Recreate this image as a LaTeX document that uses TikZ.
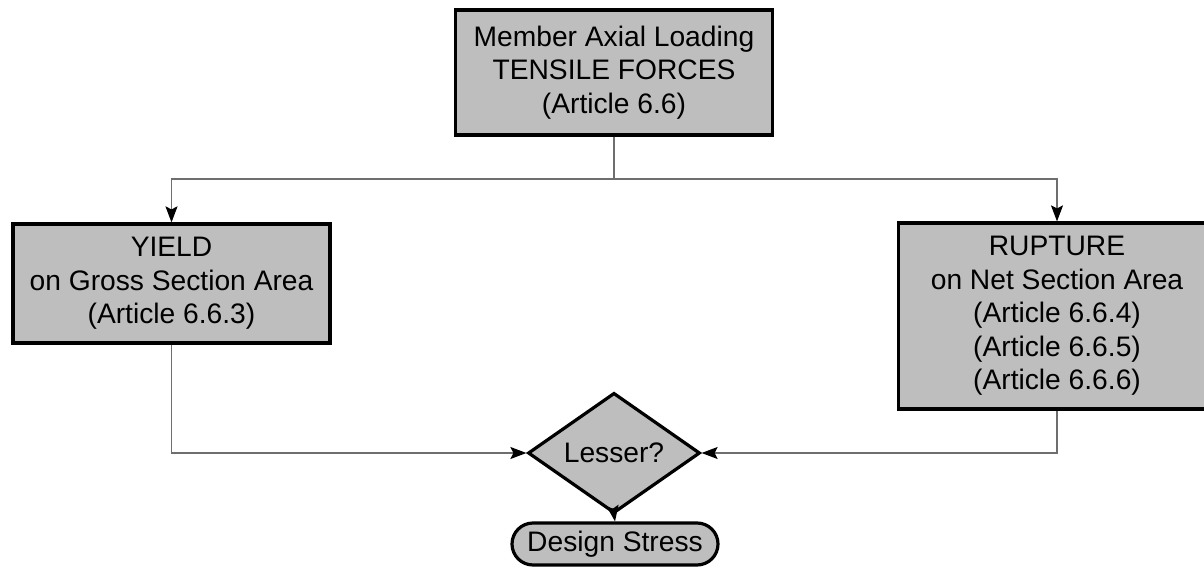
\documentclass[tikz,border=0pt]{standalone}
\usepackage{fontspec}
\setmainfont{Liberation Sans}
\usetikzlibrary{shapes.geometric,arrows.meta}

\definecolor{boxgray}{RGB}{190,190,190}
\definecolor{linegray}{RGB}{110,110,110}

\tikzset{
  block/.style={draw=black, line width=1.6pt, fill=boxgray, align=center,
    minimum width=158.5pt, inner sep=0pt,
    font=\fontsize{14.1}{16.8}\selectfont},
  decide/.style={draw=black, line width=1.6pt, fill=boxgray, diamond,
    inner sep=0pt, minimum width=86pt, minimum height=49.5pt,
    font=\fontsize{14.1}{16.8}\selectfont},
  endbox/.style={draw=black, line width=1.6pt, fill=boxgray,
    rounded corners=10.5pt, minimum width=103pt, minimum height=21pt,
    inner sep=0pt, font=\fontsize{14.1}{16.8}\selectfont},
  link/.style={draw=linegray, line width=0.6pt,
    -{Stealth[length=8pt,width=6pt,inset=1.5pt,color=black]}}
}

\begin{document}
\begin{tikzpicture}[x=0.5pt,y=-0.5pt]
  \useasboundingbox (0,0) rectangle (1204,567);

  % boxes
  \node[block, minimum height=62.5pt] (member) at (614,72.5)
    {Member Axial Loading\\TENSILE FORCES\\(Article 6.6)};
  \node[block, minimum height=59.5pt] (yield) at (171.5,283.5)
    {YIELD\\on Gross Section Area\\(Article 6.6.3)};
  \node[block, minimum height=93pt] (rupture) at (1057,316)
    {RUPTURE\\on Net Section Area\\(Article 6.6.4)\\(Article 6.6.5)\\(Article 6.6.6)};
  \node[decide] (lesser) at (614,453) {Lesser?};
  \node[endbox] (design) at (615,544) {Design Stress};

  % connectors
  \coordinate (split) at (614,179);
  \draw[link] (member.south) -- (split) -| (yield.north);
  \draw[link] (split) -| (rupture.north);
  \draw[link] (yield.south) |- (lesser.west);
  \draw[link] (rupture.south) |- (lesser.east);
  \draw[link] (lesser.south) -- (design.north);
\end{tikzpicture}
\end{document}
